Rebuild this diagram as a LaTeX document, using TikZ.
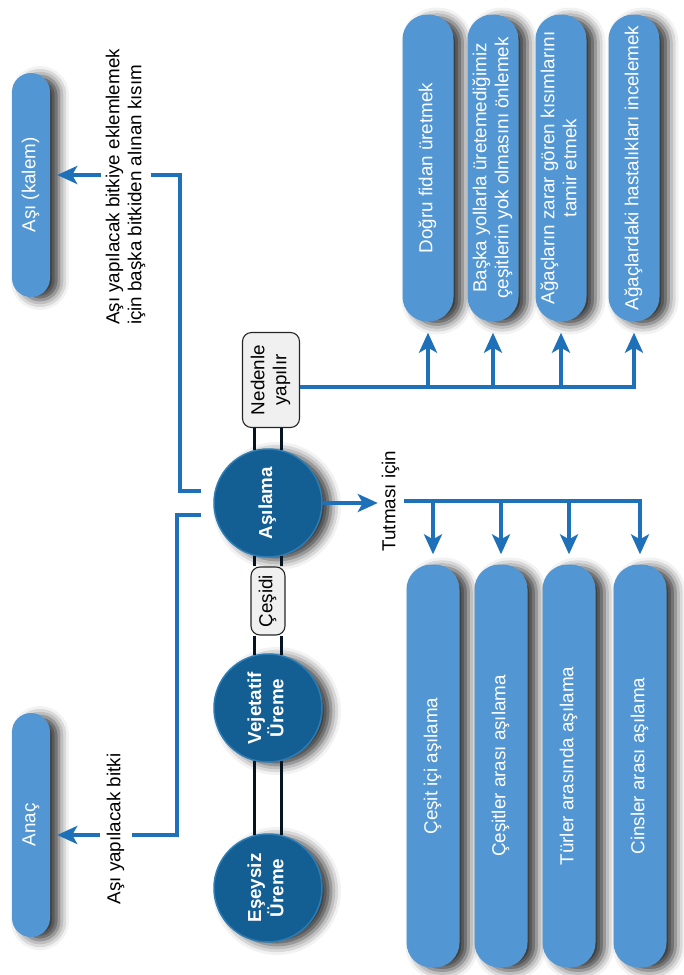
\documentclass[tikz,border=0pt]{standalone}
\usepackage{graphicx}
\usepackage{fontspec}
\setmainfont{Liberation Sans}
\usetikzlibrary{arrows.meta,shadows.blur}
\definecolor{pillblue}{RGB}{82,151,212}
\definecolor{lineblue}{RGB}{30,113,185}
\definecolor{circblue}{RGB}{19,94,146}
\definecolor{circrim}{RGB}{45,125,180}
\definecolor{boxgray}{RGB}{240,240,240}
\definecolor{dblcol}{RGB}{5,20,35}
\newcommand\rt[2][c]{\rotatebox{90}{\begin{tabular}{@{}#1@{}}#2\end{tabular}}}
\tikzset{
  every node/.style={font=\fontsize{18.8}{22}\selectfont},
  softshadow/.style={blur shadow={shadow xshift=9pt,shadow yshift=-3pt,shadow blur radius=10pt,shadow opacity=80}},
  pill/.style={fill=pillblue, rounded corners=25pt, text=white, inner sep=0pt, softshadow},
  sidepill/.style={pill, rounded corners=19pt, minimum width=38pt, minimum height=224pt},
  toppill/.style={pill, minimum width=51pt, minimum height=307pt},
  botpill/.style={pill, minimum width=53pt, minimum height=403pt},
  circ/.style={circle, fill=circblue, draw=circrim, line width=1.5pt, minimum size=108pt, inner sep=0pt, text=white, font=\fontsize{18.8}{21}\selectfont\bfseries, softshadow},
  lab/.style={fill=boxgray, draw=black!85, line width=1.1pt, rounded corners=9pt, inner sep=0pt},
  free/.style={fill=white, inner sep=3pt},
  bl/.style={draw=lineblue, line width=3.6pt},
  arr/.style={bl, -{Stealth[length=20pt,width=18pt,inset=5pt]}},
  dbl/.style={draw=dblcol, line width=2.3pt}
}
\begin{document}
\begin{tikzpicture}[x=1pt,y=-1pt]
\useasboundingbox (0,0) rectangle (684,975);
% side pills
\node[sidepill] (kalem) at (31,185) {\rt{Aşı (kalem)}};
\node[sidepill] (anac) at (31,825) {\rt{Anaç}};
% top pills
\node[toppill] (q1) at (428,168) {\rt{Doğru fidan üretmek}};
\node[toppill] (q2) at (493,168) {\rt{Başka yollarla üretemediğimiz\\çeşitlerin yok olmasını önlemek}};
\node[toppill] (q3) at (561,168) {\rt{Ağaçların zarar gören kısımlarını\\tamir etmek}};
\node[toppill] (q4) at (634,168) {\rt{Ağaçlardaki hastalıkları incelemek}};
% bottom pills
\node[botpill] (b1) at (433,766) {\rt{Çeşit içi aşılama}};
\node[botpill] (b2) at (501,766) {\rt{Çeşitler arası aşılama}};
\node[botpill] (b3) at (569,766) {\rt{Türler arasında aşılama}};
\node[botpill] (b4) at (640,766) {\rt{Cinsler arası aşılama}};
% circles
\node[circ] (asil) at (268,503) {\rt{Aşılama}};
\node[circ] (vej) at (268,708) {\rt{Vejetatif\\Üreme}};
\node[circ] (esey) at (268,888) {\rt{Eşeysiz\\Üreme}};
% label boxes
\node[lab, minimum width=57pt, minimum height=95pt] (ned) at (271,380) {\rt{Nedenle\\yapılır}};
\node[lab, minimum width=34pt, minimum height=68pt] (ces) at (268,601) {\rt{Çeşidi}};
\node[inner sep=2pt] (tut) at (391,501) {\rt{Tutması için}};
% double lines (vertical, aligned on the circles' axis)
\foreach \s in {-13.5pt,13.5pt}{
  \draw[dbl] ([xshift=\s]asil.north |- ned.south) -- ([xshift=\s,yshift=-1.5pt]asil.north);
  \draw[dbl] ([xshift=\s,yshift=1.5pt]asil.south) -- ([xshift=\s]asil.south |- ces.north);
  \draw[dbl] ([xshift=\s]vej.north |- ces.south) -- ([xshift=\s,yshift=-1.5pt]vej.north);
  \draw[dbl] ([xshift=\s,yshift=1.5pt]vej.south) -- ([xshift=\s,yshift=-1.5pt]esey.north);
}
% top bracket
\coordinate (nl) at (0,387);
\draw[arr, shorten >=11pt] (ned.east |- nl) -| (q4.south);
\foreach \q in {q1,q2,q3} \draw[arr, shorten >=11pt] (\q.south |- nl) -- (\q.south);
% bottom bracket
\draw[arr] (asil.east) -- (asil.east -| tut.west);
\draw[arr, shorten >=10pt] (tut.east) -| (b4.north);
\foreach \b in {b1,b2,b3} \draw[arr, shorten >=10pt] (\b.north |- tut.east) -- (\b.north);
% left brackets
\draw[arr, shorten >=7pt] ([xshift=-12pt,yshift=12pt]asil.west) -- ++(-21pt,0) |- ([yshift=10pt]kalem.east);
\draw[arr, shorten >=7pt] ([xshift=-12pt,yshift=-12pt]asil.west) -- ++(-24pt,0) |- ([yshift=-10pt]anac.east);
% connector labels
\node[free] (t1) at (126,187) {\rt[l]{Aşı yapılacak bitkiye eklemlemek\\için başka bitkiden alınan kısım}};
\node[free, inner xsep=5pt] (t2) at (116,829) {\rt{Aşı yapılacak bitki}};
\end{tikzpicture}
\end{document}
